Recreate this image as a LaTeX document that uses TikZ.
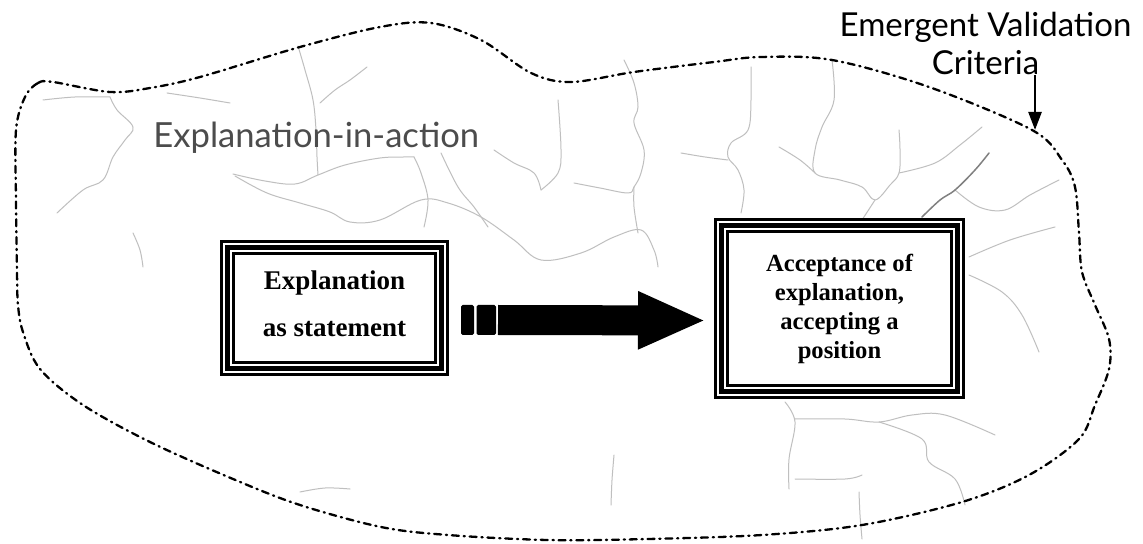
\documentclass[tikz,border=0pt]{standalone}
\usepackage{fontspec}
\setmainfont{Liberation Serif}
\newfontfamily\handfont{Lato}
\usetikzlibrary{arrows.meta,calc}

\begin{document}
\begin{tikzpicture}[x=0.5pt,y=-0.5pt,
  river/.style={draw=black!25, line width=0.5pt, line cap=round, line join=round},
  region/.style={line width=1.15pt, line cap=round, dash pattern=on 3.5pt off 2.4pt on 0.6pt off 2.4pt},
  framebox/.style={draw, line width=2.5pt, outer sep=0pt, inner sep=0pt,
    preaction={fill=white},
    preaction={draw, line width=7.5pt},
    preaction={draw=white, line width=4.8pt},
    align=center},
  label/.style={inner sep=0pt, anchor=base},
  bigarrow/.style={line width=15pt, -{Triangle[length=34pt,width=26.5pt]}},
  pointer/.style={line width=1.2pt, -{Triangle[length=9pt,width=6.5pt]}}]

\useasboundingbox[fill=white] (0,0) rectangle (1143,544);

% faint river network in the background
\foreach \r in {
  {(298,46) (305,70) (313,100) (316,130) (317,157) (318,175)},
  {(233,174) (265,181) (295,184) (318,175) (345,165) (380,158) (404,157) (414,157)},
  {(320,103) (335,90) (350,80) (367,67)},
  {(235,176) (267,193) (300,203) (330,212) (350,222) (380,220) (421,200) (448,203) (481,217) (514,240) (541,260) (581,253) (614,237) (641,230) (654,250) (658,267)},
  {(43,100) (75,97) (110,97)},
  {(110,97) (117,110) (133,127) (125,140) (113,157) (103,180) (83,190) (57,213)},
  {(167,93) (200,98) (230,103)},
  {(133,233) (140,250) (143,267)},
  {(414,157) (421,173) (428,200) (424,227)},
  {(441,153) (458,187) (474,207) (488,227)},
  {(494,150) (514,163) (534,173) (541,190)},
  {(541,190) (558,173) (561,150) (558,100)},
  {(624,60) (634,83) (638,107) (634,123) (644,150) (641,173) (634,187) (628,193) (600,188) (574,183)},
  {(634,187) (634,207) (638,233)},
  {(751,67) (751,100) (748,130) (731,143) (728,157) (738,170) (744,190) (741,213)},
  {(681,153) (705,157) (728,160)},
  {(832,60) (834,100) (822,127) (815,150) (815,173) (840,180) (862,187) (875,200) (890,185) (899,173) (900,150) (899,130)},
  {(779,147) (800,160) (815,173)},
  {(875,200) (862,220)},
  {(899,173) (935,163) (960,145) (982,127)},
  {(955,190) (979,207) (1005,210) (1030,195) (1059,180)},
  {(969,257) (1010,240) (1055,227)},
  {(969,275) (1002,292) (1022,315) (1039,352)},
  {(785,402) (795,422) (789,459) (789,489)},
  {(795,419) (845,419) (879,422) (912,415) (945,415) (995,435)},
  {(879,422) (922,439) (929,462) (955,479) (965,505)},
  {(795,479) (845,479) (862,475)},
  {(859,492) (860,515) (862,539)},
  {(300,492) (325,488) (350,489)},
  {(614,455) (612,480) (611,505)}}
  \draw[river] plot[smooth, tension=0.6] coordinates \r;
\draw[river, draw=black!50, line width=0.75pt] plot[smooth, tension=0.6] coordinates {(922,217) (940,200) (955,190) (975,170) (989,153)};

% dash-dotted boundary of the region
\draw[region] plot[smooth cycle, tension=0.55] coordinates {
  (25,97) (38,83) (53,82) (110,92) (150,88) (200,77) (300,47) (380,27) (431,23)
  (481,40) (531,73) (571,82) (634,72) (714,62) (761,57) (832,60) (929,87)
  (1032,130) (1062,160) (1075,187) (1079,233) (1082,272) (1095,305) (1109,339)
  (1109,369) (1095,405) (1079,439) (1029,475) (962,502) (862,525) (762,535)
  (648,539) (548,540) (448,535) (381,527) (300,505) (233,479) (150,442)
  (83,405) (40,369) (23,332) (18,305) (17,272) (16,200) (16,130)};

% labels
\node[label, anchor=base west, text=black!70, font=\handfont\fontsize{17.3pt}{20pt}\selectfont]
  (act) at (153,148) {Explanation-in-action};
\node[label, font=\handfont\fontsize{16.5pt}{20pt}\selectfont] (E1) at (985.5,37) {Emergent Validation};
\node[label, font=\handfont\fontsize{16.5pt}{20pt}\selectfont] (E2) at (985.5,75) {Criteria};
\coordinate (ct) at (1035,130);
\draw[pointer] (E2.base -| ct) -- (ct);

% the two framed boxes
\node[framebox, minimum width=107pt, minimum height=60.5pt,
  font=\bfseries\fontsize{13.5pt}{23.5pt}\selectfont] (L) at (334.5,308)
  {Explanation\\as statement\rule[-4pt]{0pt}{0pt}};
\node[framebox, minimum width=118pt, minimum height=83pt,
  font=\bfseries\fontsize{12.3pt}{14.5pt}\selectfont] (R) at (839.5,308.5)
  {Acceptance of\\explanation,\\accepting a\\position};

% striped block arrow between the boxes
\fill[rounded corners=0.8pt] ($(L.east)+(9.75pt,-13.5pt)$) rectangle ++(6.5pt,15pt);
\fill[rounded corners=0.8pt] ($(L.east)+(17.5pt,-13.5pt)$) rectangle ++(9.75pt,15pt);
\draw[bigarrow] ($(L.east)+(28.25pt,-6pt)$) -- ($(R.west)+(-7.75pt,-6pt)$);

\end{tikzpicture}
\end{document}
